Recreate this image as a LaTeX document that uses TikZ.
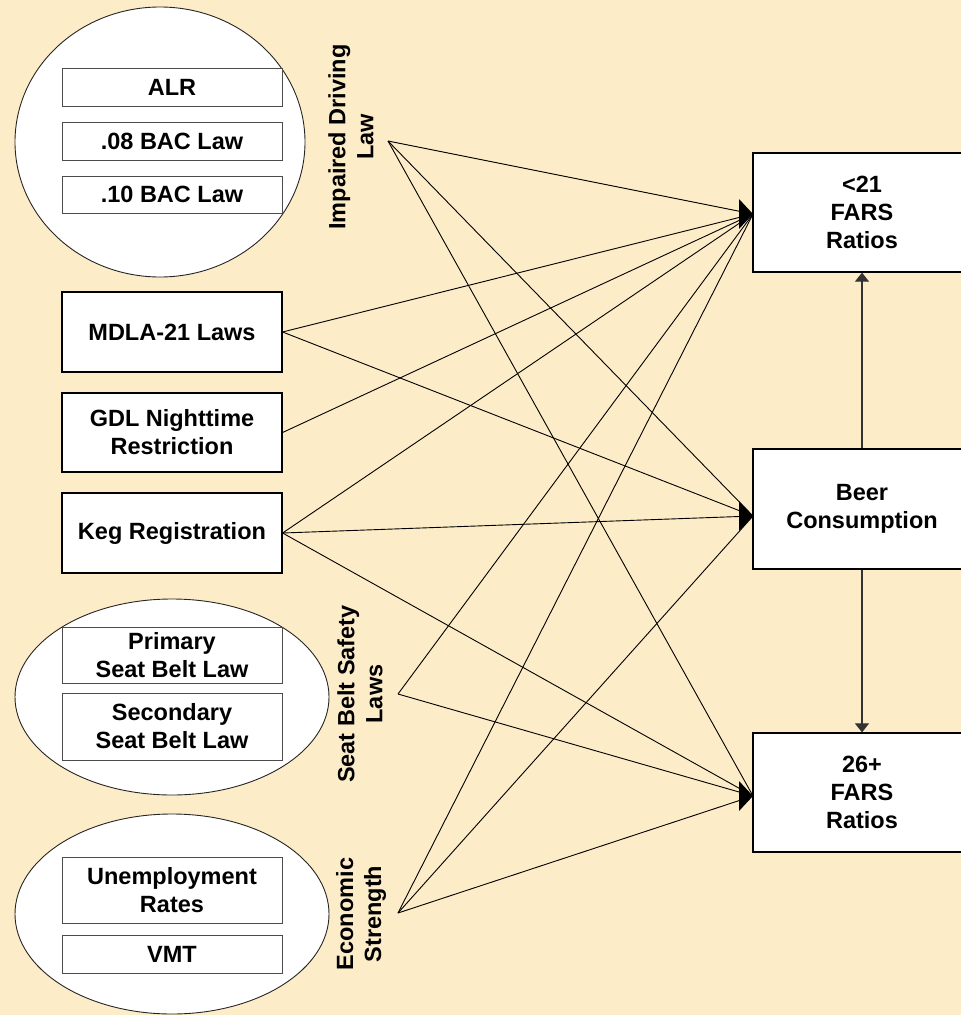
\documentclass[tikz,border=0pt]{standalone}
\usepackage{fontspec}
\setmainfont{Liberation Sans}
\usetikzlibrary{shapes.geometric,arrows.meta}
\definecolor{bgc}{RGB}{253,236,200}
\definecolor{vline}{RGB}{90,90,90}
\begin{document}
\begin{tikzpicture}[x=1pt,y=-1pt,
 txt/.style={font=\bfseries\fontsize{23.5}{28}\selectfont, align=center},
 mainbox/.style={txt, draw=black, fill=white, line width=1.2pt, inner sep=0pt},
 innerbox/.style={txt, draw=black!70, fill=white, line width=1pt, inner sep=0pt, minimum width=220pt},
 grp/.style={ellipse, draw=black!85, fill=white, line width=0.9pt, inner sep=0pt},
 conn/.style={line width=0.9pt, black},
 lbl/.style={txt, rotate=90}]
\useasboundingbox (0,0) rectangle (961,1015);
\fill[bgc] (0,0) rectangle (961,1015);

% groups
\node[grp, minimum width=290pt, minimum height=270pt] (g1) at (160,142) {};
\node[grp, minimum width=314pt, minimum height=196pt] (g2) at (172,697) {};
\node[grp, minimum width=314pt, minimum height=200pt] (g3) at (172,914) {};

\node[innerbox, minimum height=38pt] (alr) at (172,87) {ALR};
\node[innerbox, minimum height=38pt] (bac08) at (172,141) {.08 BAC Law};
\node[innerbox, minimum height=37pt] (bac10) at (172,194.5) {.10 BAC Law};
\node[innerbox, minimum height=56pt] (prim) at (172,655) {Primary\\Seat Belt Law};
\node[innerbox, minimum height=67pt] (sec) at (172,726.5) {Secondary\\Seat Belt Law};
\node[innerbox, minimum height=66pt] (unemp) at (172,890) {Unemployment\\Rates};
\node[innerbox, minimum height=38pt] (vmt) at (172,954) {VMT};

% left boxes
\node[mainbox, minimum width=220pt, minimum height=80pt] (mdla) at (172,332) {MDLA-21 Laws};
\node[mainbox, minimum width=220pt, minimum height=79pt] (gdl) at (172,432.5) {GDL Nighttime\\Restriction};
\node[mainbox, minimum width=220pt, minimum height=80pt] (keg) at (172,533) {Keg Registration};

% right boxes
\node[mainbox, minimum width=218pt, minimum height=119pt] (c21) at (862,212.5) {<21\\FARS\\Ratios};
\node[mainbox, minimum width=218pt, minimum height=120pt] (beer) at (862,509) {Beer\\Consumption};
\node[mainbox, minimum width=218pt, minimum height=119pt] (c26) at (862,792.5) {26+\\FARS\\Ratios};

% rotated labels
\node[lbl] (limp) at (351,137) {Impaired Driving\\Law};
\node[lbl] (lseat) at (360,694) {Seat Belt Safety\\Laws};
\node[lbl] (leco) at (361,914) {Economic\\Strength};

% source points and tips
\coordinate (simp) at (388,141);
\coordinate (sseat) at (398,694);
\coordinate (seco) at (398,913);
\coordinate (t21) at (753,214);
\coordinate (tbeer) at (753,516);
\coordinate (t26) at (753,796);

% connectors
\draw[conn] (simp) -- (t21);
\draw[conn] (simp) -- (tbeer);
\draw[conn] (simp) -- (t26);
\draw[conn] (mdla.east) -- (t21);
\draw[conn] (mdla.east) -- (tbeer);
\draw[conn] (gdl.east) -- (t21);
\draw[conn] (keg.east) -- (t21);
\draw[conn] (keg.east) -- (tbeer);
\draw[conn] (keg.east) -- (t26);
\draw[conn] (sseat) -- (t21);
\draw[conn] (sseat) -- (t26);
\draw[conn] (seco) -- (t21);
\draw[conn] (seco) -- (tbeer);
\draw[conn] (seco) -- (t26);

\fill (t21) -- ++(-14,-15) -- ++(0,30) -- cycle;
\fill (tbeer) -- ++(-14,-15) -- ++(0,30) -- cycle;
\fill (t26) -- ++(-14,-15) -- ++(0,30) -- cycle;

\draw[vline, line width=1.1pt, -{Triangle[length=9pt,width=14pt]}, black!80] (beer.north) -- (c21.south);
\draw[vline, line width=1.1pt, -{Triangle[length=9pt,width=14pt]}, black!80] (beer.south) -- (c26.north);
\end{tikzpicture}
\end{document}
